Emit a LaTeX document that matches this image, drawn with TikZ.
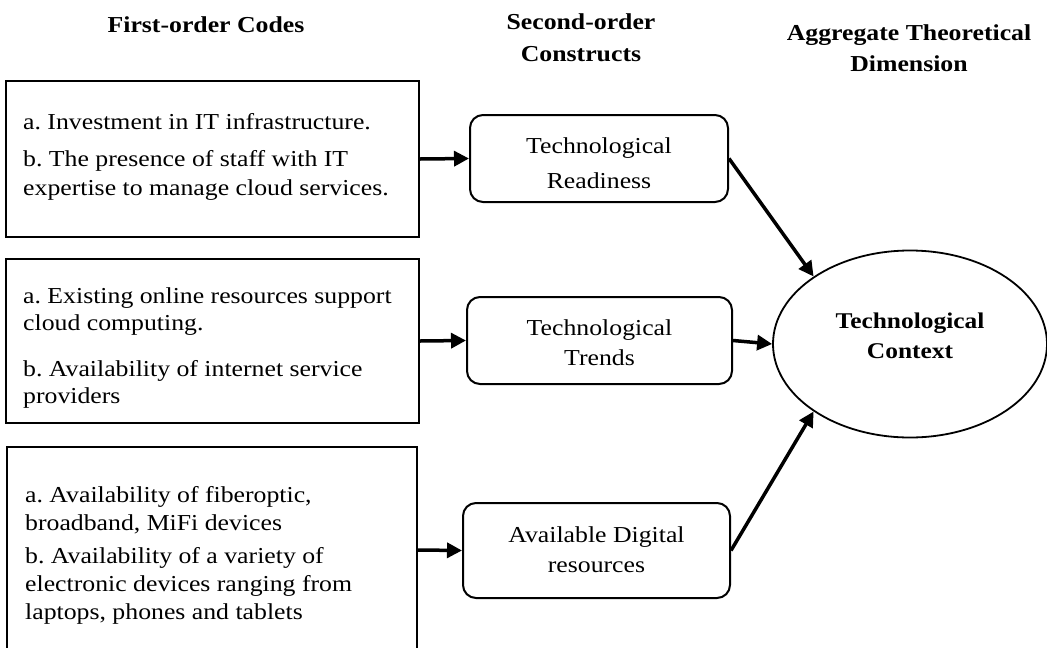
\documentclass[tikz,border=0pt]{standalone}
\usepackage{fontspec}
\setmainfont{Liberation Serif}[FakeStretch=1.13]
\usetikzlibrary{arrows.meta,shapes.geometric}
\frenchspacing
\tikzset{
  body/.style={font=\fontsize{22.8}{28}\selectfont\frenchspacing,inner sep=0pt},
  head/.style={font=\fontsize{22.8}{28}\selectfont\bfseries,inner sep=0pt,anchor=base},
  dimtext/.style={font=\fontsize{22.5}{28}\selectfont\bfseries,inner sep=0pt,anchor=base},
  codebox/.style={draw,line width=2.2pt,inner sep=0pt},
  conbox/.style={draw,line width=2pt,rounded corners=13pt,inner sep=0pt},
  dimnode/.style={draw,ellipse,line width=1.8pt,inner sep=0pt},
  arr/.style={line width=3.5pt,-{Triangle[length=15pt,width=15pt]}}
}
\begin{document}
\begin{tikzpicture}[x=1pt,y=-1pt]
\useasboundingbox (0,0) rectangle (1047,648);
% headers
\node[head] (h1) at (206,32) {First-order Codes};
\node[head] (h2a) at (581,29) {Second-order};
\node[head] (h2b) at (581,61) {Constructs};
\node[head] (h3a) at (909,40) {Aggregate Theoretical};
\node[head] (h3b) at (909,71) {Dimension};
% first-order boxes
\node[codebox,minimum width=413pt,minimum height=156pt] (b1) at (212.5,159) {};
\node[codebox,minimum width=413pt,minimum height=164pt] (b2) at (212.5,341) {};
\node[codebox,minimum width=410pt,minimum height=206pt] (b3) at (212,550) {};
% box 1 text
\node[body,anchor=base west] (t11) at (23,129) {a. Investment in IT infrastructure.};
\node[body,anchor=base west] (t12) at (23,166) {b. The presence of staff with IT};
\node[body,anchor=base west] (t13) at (23,195) {expertise to manage cloud services.};
% box 2 text
\node[body,anchor=base west] (t21) at (23,303) {a. Existing online resources support};
\node[body,anchor=base west] (t22) at (23,330) {cloud computing.};
\node[body,anchor=base west] (t23) at (23,376) {b. Availability of internet service};
\node[body,anchor=base west] (t24) at (23,403) {providers};
% box 3 text
\node[body,anchor=base west] (t31) at (25,502) {a. Availability of fiberoptic,};
\node[body,anchor=base west] (t32) at (25,530) {broadband, MiFi devices};
\node[body,anchor=base west] (t33) at (25,563) {b. Availability of a variety of};
\node[body,anchor=base west] (t34) at (25,591) {electronic devices ranging from};
\node[body,anchor=base west] (t35) at (25,619) {laptops, phones and tablets};
% second-order constructs
\node[conbox,minimum width=258pt,minimum height=87pt] (r) at (599,158.5) {};
\node[body,anchor=base] (r1) at (599,153) {Technological};
\node[body,anchor=base] (r2) at (599,188) {Readiness};
\node[conbox,minimum width=265pt,minimum height=87pt] (t) at (599.5,340.5) {};
\node[body,anchor=base] (tr1) at (599.5,335) {Technological};
\node[body,anchor=base] (tr2) at (599.5,365) {Trends};
\node[conbox,minimum width=267pt,minimum height=95pt] (d) at (596.5,550.5) {};
\node[body,anchor=base] (d1) at (596.5,542) {Available Digital};
\node[body,anchor=base] (d2) at (596.5,572) {resources};
% aggregate dimension
\node[dimnode,minimum width=274pt,minimum height=187pt] (e) at (910,344) {};
\node[dimtext] (e1) at (910,328) {Technological};
\node[dimtext] (e2) at (910,358) {Context};
% connectors
\draw[arr] (b1.east) -- (r.west);
\draw[arr] (b2.east) -- (t.west);
\draw[arr] (b3.east) -- (d.west);
\draw[arr] (r.east) -- (e.145);
\draw[arr] (t.east) -- (e.west);
\draw[arr] (d.east) -- (e.215);
\end{tikzpicture}
\end{document}
